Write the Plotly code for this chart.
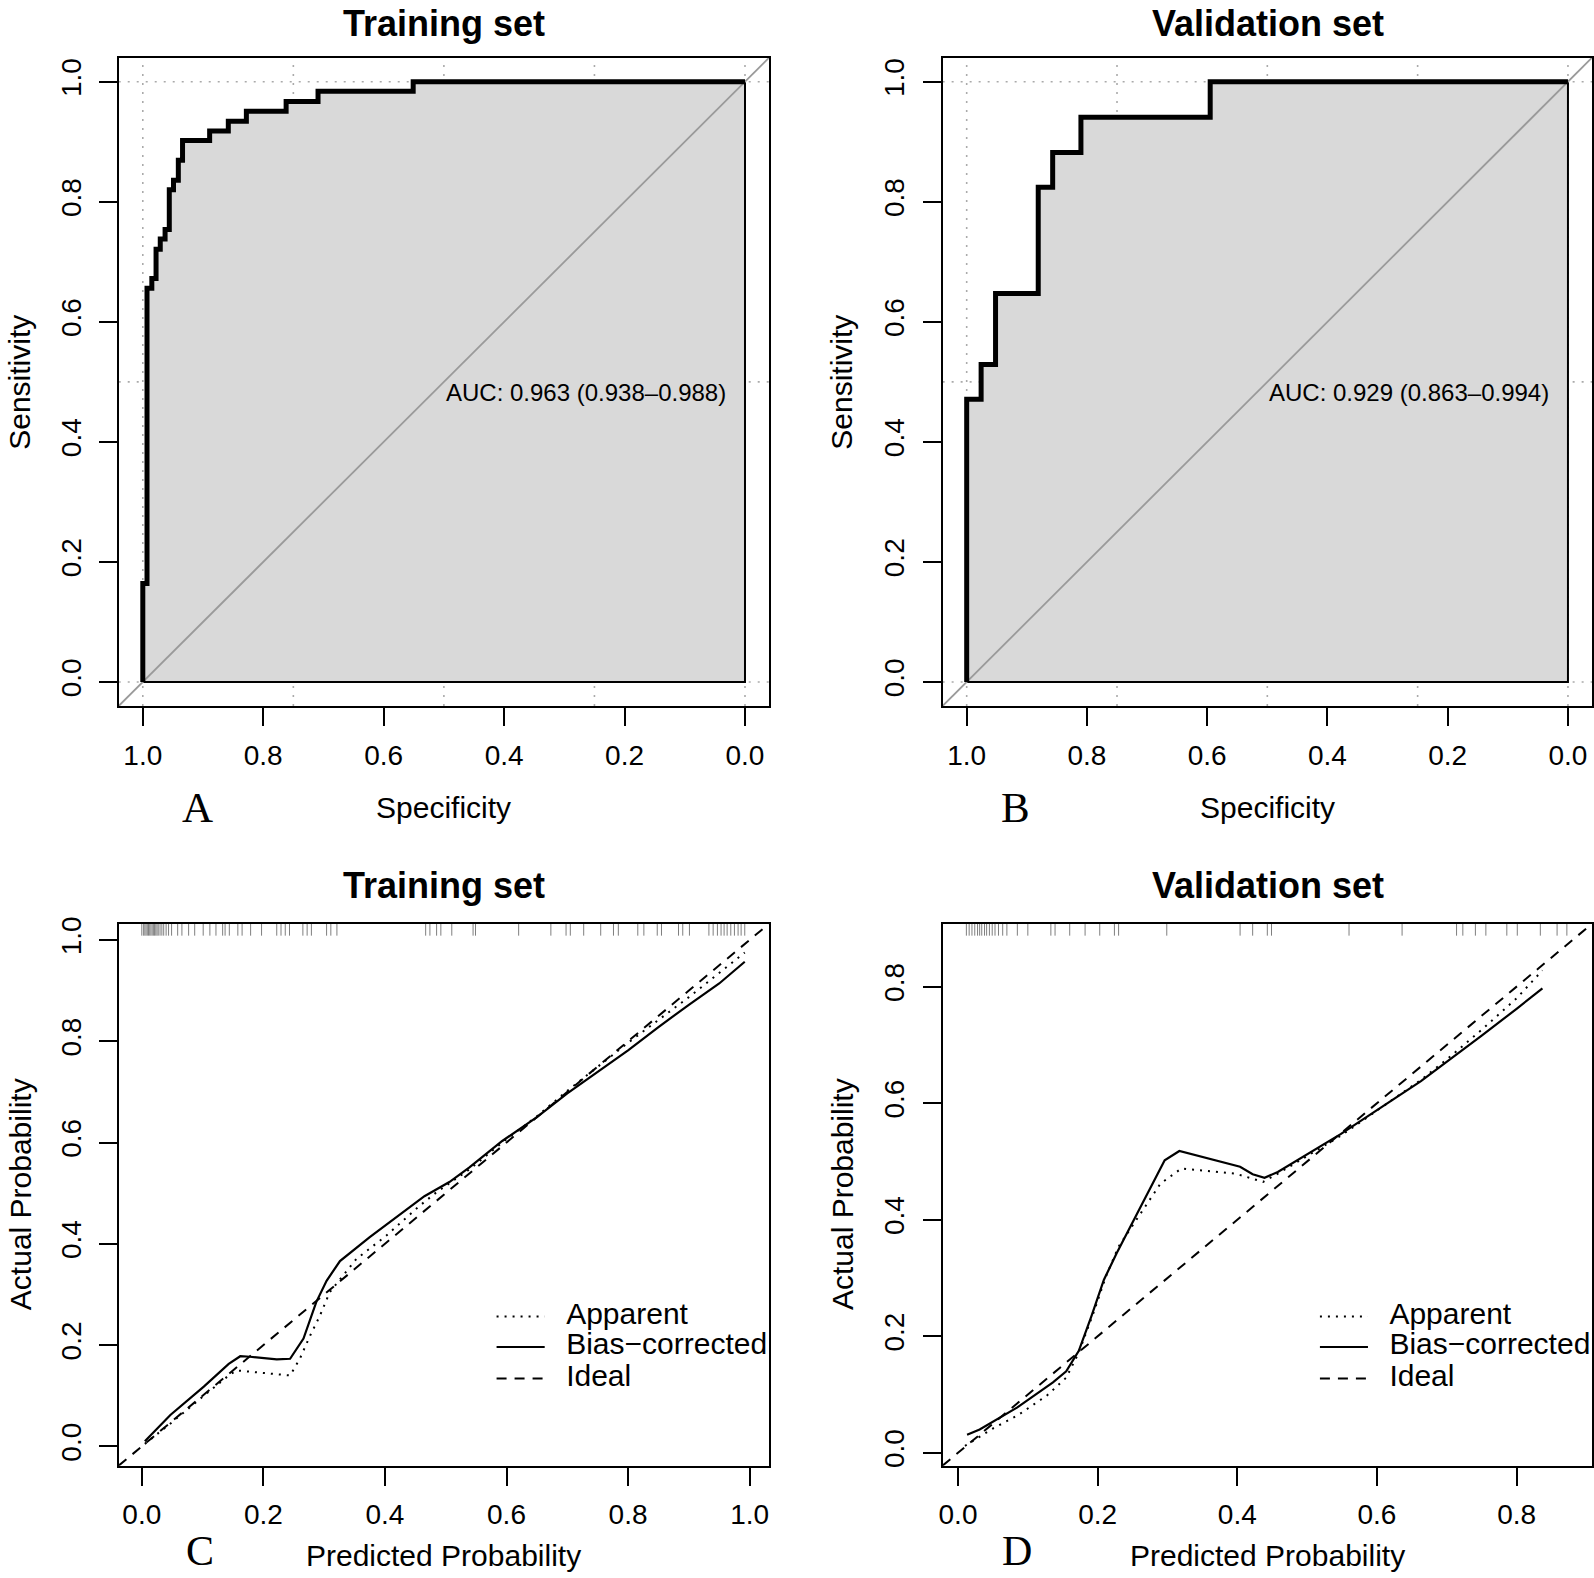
import plotly.graph_objects as go

W, H = 1594, 1578

# ---------------- ROC curves (specificity, sensitivity step points) ----------------
train_spec = [1.000, 1.000, 0.993, 0.985, 0.978, 0.971, 0.963, 0.956, 0.949, 0.941,
              0.934, 0.889, 0.858, 0.828, 0.762, 0.709, 0.551, 0.000]
train_sens = [0.000, 0.164, 0.656, 0.672, 0.721, 0.738, 0.754, 0.820, 0.836, 0.869,
              0.902, 0.918, 0.934, 0.951, 0.967, 0.984, 1.000, 1.000]
train_auc = "AUC: 0.963 (0.938–0.988)"

val_spec = [1.000, 1.000, 0.976, 0.952, 0.881, 0.857, 0.810, 0.595, 0.000]
val_sens = [0.000, 0.471, 0.529, 0.647, 0.824, 0.882, 0.941, 1.000, 1.000]
val_auc = "AUC: 0.929 (0.863–0.994)"

# ---------------- calibration curves ----------------
tr_bias_x = [0.005, 0.047, 0.102, 0.143, 0.162, 0.178, 0.222, 0.244, 0.266, 0.287, 0.304,
             0.326, 0.375, 0.430, 0.465, 0.506, 0.539, 0.593, 0.650, 0.700, 0.750, 0.800,
             0.850, 0.900, 0.950, 0.992]
tr_bias_y = [0.010, 0.062, 0.118, 0.163, 0.178, 0.177, 0.172, 0.173, 0.213, 0.285, 0.327,
             0.366, 0.413, 0.462, 0.494, 0.522, 0.551, 0.603, 0.650, 0.697, 0.740, 0.782,
             0.828, 0.872, 0.914, 0.957]
tr_app_x = [0.005, 0.050, 0.100, 0.145, 0.156, 0.173, 0.200, 0.244, 0.260, 0.277, 0.293,
            0.309, 0.331, 0.353, 0.402, 0.457, 0.484, 0.539, 0.593, 0.650, 0.700, 0.800,
            0.900, 0.992]
tr_app_y = [0.005, 0.048, 0.098, 0.142, 0.150, 0.148, 0.144, 0.140, 0.173, 0.219, 0.258,
            0.304, 0.337, 0.370, 0.416, 0.475, 0.501, 0.547, 0.600, 0.652, 0.702, 0.797,
            0.887, 0.975]

va_bias_x = [0.013, 0.031, 0.085, 0.136, 0.155, 0.173, 0.191, 0.209, 0.227, 0.296, 0.317,
             0.404, 0.422, 0.439, 0.458, 0.548, 0.663, 0.700, 0.750, 0.800, 0.837]
va_bias_y = [0.031, 0.040, 0.078, 0.121, 0.140, 0.175, 0.234, 0.297, 0.342, 0.502, 0.518,
             0.491, 0.478, 0.472, 0.482, 0.547, 0.638, 0.671, 0.716, 0.762, 0.797]
va_app_x = [0.010, 0.049, 0.085, 0.127, 0.155, 0.173, 0.194, 0.212, 0.230, 0.290, 0.320,
            0.398, 0.437, 0.458, 0.548, 0.663, 0.700, 0.750, 0.800, 0.837]
va_app_y = [0.012, 0.041, 0.064, 0.098, 0.129, 0.172, 0.240, 0.303, 0.354, 0.462, 0.488,
            0.479, 0.465, 0.479, 0.544, 0.640, 0.675, 0.726, 0.780, 0.828]

# predicted probabilities (rug)
tr_rug = [0.000, 0.003, 0.005, 0.007, 0.009, 0.011, 0.013, 0.015, 0.017, 0.019, 0.021, 0.023,
          0.025, 0.027, 0.030, 0.033, 0.036, 0.040, 0.044, 0.049, 0.059, 0.066, 0.077, 0.087,
          0.101, 0.112, 0.122, 0.133, 0.137, 0.144, 0.158, 0.165, 0.179, 0.197, 0.222, 0.229,
          0.236, 0.243, 0.265, 0.272, 0.279, 0.304, 0.311, 0.321, 0.467, 0.474, 0.485, 0.492,
          0.510, 0.545, 0.549, 0.620, 0.673, 0.698, 0.705, 0.727, 0.755, 0.776, 0.784, 0.816,
          0.826, 0.848, 0.855, 0.883, 0.890, 0.901, 0.933, 0.940, 0.947, 0.953, 0.958, 0.963,
          0.969, 0.975, 0.981, 0.986, 0.992]
va_rug = [0.012, 0.016, 0.020, 0.024, 0.028, 0.031, 0.034, 0.038, 0.041, 0.045, 0.049,
          0.053, 0.058, 0.064, 0.070, 0.085, 0.100, 0.133, 0.139, 0.160, 0.182, 0.203,
          0.224, 0.230, 0.299, 0.404, 0.422, 0.443, 0.449, 0.560, 0.636, 0.714, 0.723,
          0.741, 0.756, 0.786, 0.801, 0.834, 0.858, 0.872]

legend_labels = ["Apparent", "Bias−corrected", "Ideal"]

ROC_X = [1.04, -0.04]
ROC_Y = [-0.04, 1.04]
CAL_TR = [-0.038, 1.032]
CAL_VA = [-0.022, 0.908]

FONT = "Liberation Sans"
fig = go.Figure()


def roc_panel(n, spec, sens, auc):
    xa, ya = ("x", "y") if n == 1 else ("x%d" % n, "y%d" % n)
    # dotted grid
    for v in [0.0, 0.25, 0.5, 0.75, 1.0]:
        fig.add_shape(type="line", xref=xa, yref=ya, x0=v, x1=v, y0=ROC_Y[0], y1=ROC_Y[1],
                      line=dict(color="#aaaaaa", width=1.6, dash="2px,7px"), layer="below")
    for v in [0.0, 0.5, 1.0]:
        fig.add_shape(type="line", xref=xa, yref=ya, x0=ROC_X[0], x1=ROC_X[1], y0=v, y1=v,
                      line=dict(color="#aaaaaa", width=1.6, dash="2px,7px"), layer="below")
    # area under curve
    px_ = spec + [spec[-1], spec[0]]
    py_ = sens + [sens[0], sens[0]]
    fig.add_trace(go.Scatter(x=px_, y=py_, xaxis=xa, yaxis=ya, mode="lines",
                             line=dict(color="black", width=2, shape="hv"),
                             fill="toself", fillcolor="#d9d9d9", hoverinfo="skip"))
    # identity
    fig.add_trace(go.Scatter(x=ROC_X, y=ROC_Y, xaxis=xa, yaxis=ya, mode="lines",
                             line=dict(color="#9a9a9a", width=1.8), hoverinfo="skip"))
    fig.add_trace(go.Scatter(x=spec, y=sens, xaxis=xa, yaxis=ya, mode="lines",
                             line=dict(color="black", width=5, shape="hv")))
    fig.add_annotation(x=0.5, y=0.5, xref=xa, yref=ya, text=auc, showarrow=False,
                       xanchor="left", yanchor="top", yshift=5,
                       font=dict(family=FONT, size=24, color="black"))


def cal_panel(n, rng, bx, by, ax, ay, rug):
    xa, ya = "x%d" % n, "y%d" % n
    span = rng[1] - rng[0]
    # rug
    rx, ry = [], []
    for v in rug:
        rx += [v, v, None]
        ry += [rng[1], rng[1] - 0.022 * span, None]
    fig.add_trace(go.Scatter(x=rx, y=ry, xaxis=xa, yaxis=ya, mode="lines",
                             line=dict(color="#7f7f7f", width=1)))
    fig.add_trace(go.Scatter(x=rng, y=rng, xaxis=xa, yaxis=ya, mode="lines",
                             line=dict(color="black", width=2, dash="10px,8px")))
    fig.add_trace(go.Scatter(x=ax, y=ay, xaxis=xa, yaxis=ya, mode="lines",
                             line=dict(color="black", width=2, dash="2px,6px")))
    fig.add_trace(go.Scatter(x=bx, y=by, xaxis=xa, yaxis=ya, mode="lines",
                             line=dict(color="black", width=2.2)))
    # legend
    dashes = ["2px,6px", "solid", "10px,8px"]
    fy = [0.275, 0.219, 0.161]
    for i, lab in enumerate(legend_labels):
        yy = rng[0] + fy[i] * span
        fig.add_trace(go.Scatter(x=[rng[0] + 0.581 * span, rng[0] + 0.655 * span], y=[yy, yy],
                                 xaxis=xa, yaxis=ya, mode="lines",
                                 line=dict(color="black", width=2, dash=dashes[i])))
    fig.add_trace(go.Scatter(x=[rng[0] + 0.688 * span] * 3,
                             y=[rng[0] + f * span for f in fy],
                             text=legend_labels, mode="text", textposition="middle right",
                             textfont=dict(family=FONT, size=30, color="black"),
                             xaxis=xa, yaxis=ya, cliponaxis=True))


roc_panel(1, train_spec, train_sens, train_auc)
roc_panel(2, val_spec, val_sens, val_auc)
cal_panel(3, CAL_TR, tr_bias_x, tr_bias_y, tr_app_x, tr_app_y, tr_rug)
cal_panel(4, CAL_VA, va_bias_x, va_bias_y, va_app_x, va_app_y, va_rug)

axis_common = dict(showline=True, mirror=True, linecolor="black", linewidth=2,
                   ticks="outside", ticklen=18, tickwidth=2, tickcolor="black",
                   showgrid=False, zeroline=False, tickformat=".1f",
                   tickfont=dict(family=FONT, size=28, color="black"), fixedrange=True)
xax = dict(axis_common, ticklabelstandoff=5)
yax = dict(axis_common, ticklabelstandoff=7, tickangle=-90)


# positions below are page pixels, converted to paper fractions
def px(v):
    return v / W


def py(v):
    return 1 - v / H


ticks6 = [0.0, 0.2, 0.4, 0.6, 0.8, 1.0]
ticks5 = [0.0, 0.2, 0.4, 0.6, 0.8]
dom_left = [px(115), px(767)]
dom_right = [px(941), px(1592)]
dom_top = [py(703), py(51)]
dom_bot = [py(1467), py(922)]

fig.update_layout(
    width=W, height=H, margin=dict(l=0, r=0, t=0, b=0),
    paper_bgcolor="white", plot_bgcolor="white", showlegend=False,
    xaxis=dict(xax, domain=dom_left, range=ROC_X, tickvals=ticks6, anchor="y"),
    yaxis=dict(yax, domain=dom_top, range=ROC_Y, tickvals=ticks6, anchor="x"),
    xaxis2=dict(xax, domain=dom_right, range=ROC_X, tickvals=ticks6, anchor="y2"),
    yaxis2=dict(yax, domain=dom_top, range=ROC_Y, tickvals=ticks6, anchor="x2"),
    xaxis3=dict(xax, domain=dom_left, range=CAL_TR, tickvals=ticks6, anchor="y3"),
    yaxis3=dict(yax, domain=dom_bot, range=CAL_TR, tickvals=ticks6, anchor="x3"),
    xaxis4=dict(xax, domain=dom_right, range=CAL_VA, tickvals=ticks5, anchor="y4"),
    yaxis4=dict(yax, domain=dom_bot, range=CAL_VA, tickvals=ticks5, anchor="x4"),
)


def note(text, x, y, size=30, angle=0, family=FONT):
    fig.add_annotation(text=text, x=px(x), y=py(y), xref="paper", yref="paper",
                       showarrow=False, xanchor="center", yanchor="middle", textangle=angle,
                       font=dict(family=family, size=size, color="black"))


note("<b>Training set</b>", 441, 17, size=36)
note("<b>Validation set</b>", 1267, 17, size=36)
note("<b>Training set</b>", 441, 884, size=36)
note("<b>Validation set</b>", 1267, 884, size=36)
note("Specificity", 441, 805)
note("Specificity", 1267, 805)
note("Sensitivity", 16, 377, angle=-90)
note("Sensitivity", 840, 377, angle=-90)
note("Predicted Probability", 441, 1557)
note("Predicted Probability", 1267, 1557)
note("Actual Probability", 16, 1194, angle=-90)
note("Actual Probability", 840, 1194, angle=-90)
note("A", 194, 805, size=43, family="Liberation Serif")
note("B", 1014, 805, size=43, family="Liberation Serif")
note("C", 196, 1553, size=42, family="Liberation Serif")
note("D", 1016, 1553, size=42, family="Liberation Serif")

# drop the page's default body margin so the figure sits at the window corner
fig.write_html("out.html", config={"displayModeBar": False},
               post_script="document.body.style.margin='0px';"
                           "document.body.style.overflow='hidden';")
